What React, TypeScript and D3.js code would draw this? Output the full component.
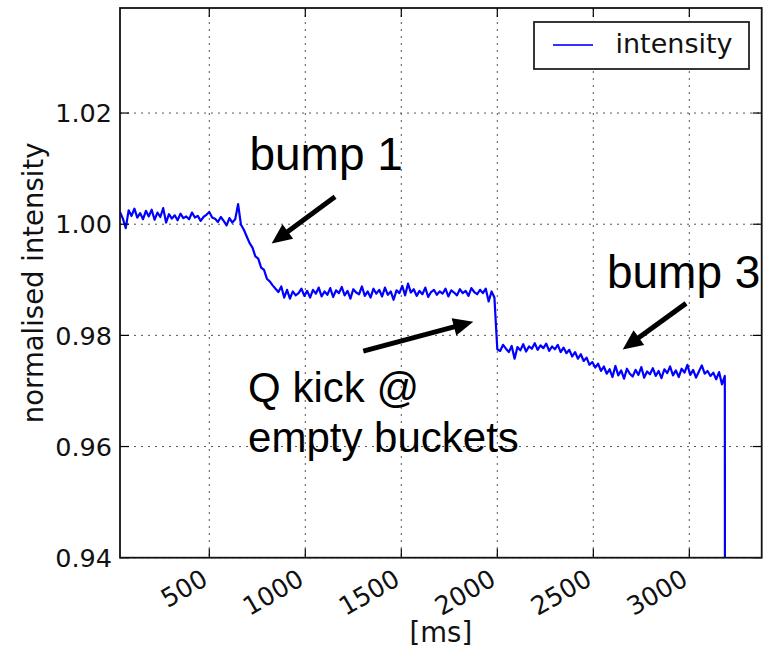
import React from 'react';
import * as d3 from 'd3';

// ---- data ----
const X_TICKS = [500, 1000, 1500, 2000, 2500, 3000];
const Y_TICKS = [0.94, 0.96, 0.98, 1.0, 1.02];
const X_DOMAIN = [35, 3377];
const Y_DOMAIN = [0.94, 1.0389];
const SERIES_NAME = 'intensity';
const X_LABEL = '[ms]';
const Y_LABEL = 'normalised intensity';

// sampled every DT ms starting at T0
const T0 = 35;
const DT = 15;
const INTENSITY = [
  1.0022, 1.0010, 0.9993, 1.0025, 1.0015, 1.0028, 1.0012, 1.0020, 1.0009, 1.0024,
  1.0014, 1.0026, 1.0008, 1.0021, 1.0013, 1.0029, 1.0003, 1.0018, 1.0010, 1.0016,
  1.0007, 1.0019, 1.0011, 1.0014, 1.0009, 1.0021, 1.0012, 1.0015, 1.0006, 1.0013,
  1.0017, 1.0022, 1.0012, 1.0010, 1.0004, 1.0013, 1.0006, 0.9998, 1.0011, 1.0003,
  1.0009, 1.0036, 0.9999, 0.9990, 0.9978, 0.9966, 0.9958, 0.9942, 0.9938, 0.9922,
  0.9918, 0.9902, 0.9897, 0.9890, 0.9884, 0.9878, 0.9888, 0.9868, 0.9882, 0.9866,
  0.9879, 0.9872, 0.9876, 0.9884, 0.9871, 0.9880, 0.9868, 0.9882, 0.9875, 0.9886,
  0.9870, 0.9879, 0.9873, 0.9885, 0.9869, 0.9881, 0.9876, 0.9887, 0.9872, 0.9880,
  0.9866, 0.9883, 0.9877, 0.9874, 0.9888, 0.9871, 0.9879, 0.9868, 0.9884, 0.9875,
  0.9882, 0.9870, 0.9886, 0.9873, 0.9879, 0.9864, 0.9881, 0.9876, 0.9889, 0.9872,
  0.9893, 0.9877, 0.9883, 0.9871, 0.9880, 0.9874, 0.9886, 0.9869, 0.9878, 0.9882,
  0.9873, 0.9879, 0.9875, 0.9884, 0.9870, 0.9881, 0.9877, 0.9872, 0.9883, 0.9876,
  0.9880, 0.9871, 0.9885, 0.9878, 0.9874, 0.9882, 0.9876, 0.9884, 0.9861, 0.9879,
  0.9868, 0.9775, 0.9772, 0.9783, 0.9776, 0.9770, 0.9781, 0.9758, 0.9779, 0.9773,
  0.9784, 0.9771, 0.9780, 0.9776, 0.9786, 0.9774, 0.9782, 0.9777, 0.9785, 0.9772,
  0.9780, 0.9775, 0.9783, 0.9770, 0.9778, 0.9768, 0.9774, 0.9762, 0.9770, 0.9758,
  0.9766, 0.9754, 0.9760, 0.9747, 0.9752, 0.9742, 0.9749, 0.9736, 0.9744, 0.9731,
  0.9739, 0.9725, 0.9745, 0.9728, 0.9737, 0.9722, 0.9740, 0.9731, 0.9726, 0.9738,
  0.9729, 0.9743, 0.9724, 0.9735, 0.9730, 0.9741, 0.9727, 0.9736, 0.9723, 0.9739,
  0.9732, 0.9744, 0.9728, 0.9737, 0.9725, 0.9740, 0.9733, 0.9747, 0.9729, 0.9738,
  0.9724, 0.9735, 0.9746, 0.9731, 0.9736, 0.9727, 0.9733, 0.9721, 0.9734, 0.9712,
  0.9727,
];
// final sharp drop (beam dump)
const END_T = 3186;
const END_V = 0.9;

// annotations in data coordinates
const LABEL_TEXTS = [['bump 1'], ['bump 3'], ['Q kick @', 'empty buckets']];
const LABEL_ANCHORS = [
  [709, 1.00973],
  [2571, 0.98851],
  [702, 0.96806],
];
const ARROW_FROM = [
  [1155, 1.00493],
  [1302, 0.97718],
  [2983, 0.98576],
];
const ARROW_TO = [
  [825, 0.99655],
  [1875, 0.98245],
  [2653, 0.97748],
];

// ---- layout ----
const W = 781;
const H = 651;
const L = 120;
const R = 761.7;
const T = 8;
const B = 557.7;

const SANS = "'DejaVu Sans', sans-serif";
const ARIAL = "'Liberation Sans', Arial, sans-serif";

export default function App() {
  const x = d3.scaleLinear().domain(X_DOMAIN).range([L, R]);
  const y = d3.scaleLinear().domain(Y_DOMAIN).range([B, T]);

  const pts: [number, number][] = INTENSITY.map((v, i) => [T0 + i * DT, v]);
  pts.push([END_T, END_V]);
  const line = d3
    .line<[number, number]>()
    .x((d) => x(d[0]))
    .y((d) => y(d[1]));

  const tickLen = 9;
  const labelSizes = [46, 46, 42];

  const arrows = ARROW_FROM.map((f, i) => {
    const x1 = x(f[0]);
    const y1 = y(f[1]);
    const x2 = x(ARROW_TO[i][0]);
    const y2 = y(ARROW_TO[i][1]);
    const dx = x2 - x1;
    const dy = y2 - y1;
    const len = Math.sqrt(dx * dx + dy * dy);
    const ux = dx / len;
    const uy = dy / len;
    const hl = 20;
    const hw = 9;
    const bx = x2 - ux * hl;
    const by = y2 - uy * hl;
    const poly = [
      [x2, y2],
      [bx - uy * hw, by + ux * hw],
      [bx + uy * hw, by - ux * hw],
    ]
      .map((p) => p.join(','))
      .join(' ');
    return (
      <g key={i}>
        <line x1={x1} y1={y1} x2={bx + ux * 2} y2={by + uy * 2} stroke="#000" strokeWidth={5} />
        <polygon points={poly} fill="#000" />
      </g>
    );
  });

  return (
    <svg
      width={W}
      height={H}
      style={{ position: 'absolute', left: 0, top: 0, background: '#fff' }}
    >
      <defs>
        <clipPath id="plotclip">
          <rect x={L} y={T} width={R - L} height={B - T} />
        </clipPath>
      </defs>
      <rect x={0} y={0} width={W} height={H} fill="#fff" />

      {/* grid */}
      <g stroke="#555" strokeWidth={1} strokeDasharray="2,5">
        {X_TICKS.map((t) => (
          <line key={'gx' + t} x1={x(t)} x2={x(t)} y1={T} y2={B} />
        ))}
        {Y_TICKS.map((t) => (
          <line key={'gy' + t} x1={L} x2={R} y1={y(t)} y2={y(t)} />
        ))}
      </g>

      {/* data */}
      <path
        d={line(pts) || ''}
        fill="none"
        stroke="#0000ff"
        strokeWidth={2.2}
        strokeLinejoin="round"
        clipPath="url(#plotclip)"
      />

      {/* ticks */}
      <g stroke="#000" strokeWidth={1.2}>
        {X_TICKS.map((t) => (
          <g key={'tx' + t}>
            <line x1={x(t)} x2={x(t)} y1={B} y2={B - tickLen} />
            <line x1={x(t)} x2={x(t)} y1={T} y2={T + tickLen} />
          </g>
        ))}
        {Y_TICKS.map((t) => (
          <g key={'ty' + t}>
            <line x1={L} x2={L + tickLen} y1={y(t)} y2={y(t)} />
            <line x1={R} x2={R - tickLen} y1={y(t)} y2={y(t)} />
          </g>
        ))}
      </g>

      {/* frame */}
      <rect x={L} y={T} width={R - L} height={B - T} fill="none" stroke="#111" strokeWidth={1.8} />

      {/* tick labels */}
      <g fontFamily={SANS} fontSize={25.5} fill="#111">
        {Y_TICKS.map((t) => (
          <text key={'ly' + t} x={L - 8} y={y(t)} dy="0.36em" textAnchor="end">
            {t.toFixed(2)}
          </text>
        ))}
        {X_TICKS.map((t) => (
          <text
            key={'lx' + t}
            transform={`translate(${x(t) - 9},${B + 10}) rotate(-30)`}
            dy="0.73em"
            textAnchor="end"
          >
            {t}
          </text>
        ))}
      </g>

      {/* axis labels */}
      <text
        x={(L + R) / 2}
        y={642}
        textAnchor="middle"
        fontFamily={SANS}
        fontSize={27.5}
        fill="#111"
      >
        {X_LABEL}
      </text>
      <text
        transform={`translate(43,${(T + B) / 2}) rotate(-90)`}
        textAnchor="middle"
        fontFamily={SANS}
        fontSize={27.5}
        fill="#111"
      >
        {Y_LABEL}
      </text>

      {/* legend */}
      <g>
        <rect x={534} y={22} width={215} height={47} fill="#fff" stroke="#222" strokeWidth={1.8} />
        <line x1={553} x2={593} y1={45} y2={45} stroke="#3333ff" strokeWidth={1.8} />
        <text x={615.5} y={52.5} fontFamily={SANS} fontSize={27} fill="#111">
          {SERIES_NAME}
        </text>
      </g>

      {/* annotations */}
      {arrows}
      {LABEL_TEXTS.map((lines, i) => (
        <text
          key={'an' + i}
          x={x(LABEL_ANCHORS[i][0])}
          y={y(LABEL_ANCHORS[i][1])}
          fontFamily={ARIAL}
          fontSize={labelSizes[i]}
          fill="#000"
        >
          {lines.map((s, j) => (
            <tspan key={j} x={x(LABEL_ANCHORS[i][0])} dy={j === 0 ? 0 : 50}>
              {s}
            </tspan>
          ))}
        </text>
      ))}
    </svg>
  );
}
